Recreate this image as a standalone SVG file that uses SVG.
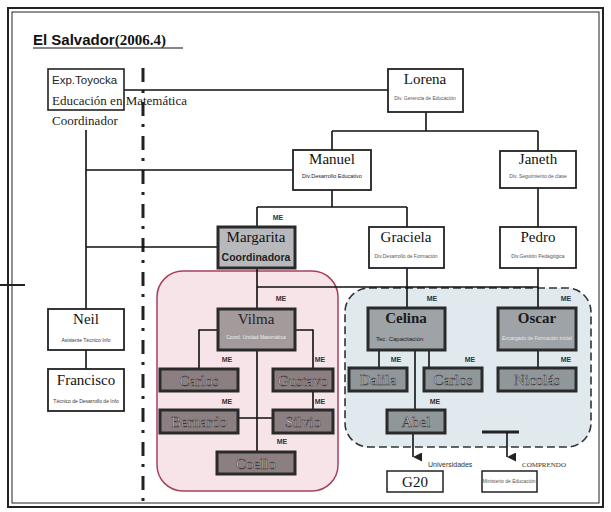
<svg xmlns="http://www.w3.org/2000/svg" width="611" height="512" viewBox="0 0 611 512">
<defs>
<style>
.frame{fill:none;stroke:#222}
.box{fill:#fff;stroke:#222;stroke-width:1.8}
.gm{fill:#b8b9bc;stroke:#2a2a2a;stroke-width:3}
.gv{fill:#a29a9b;stroke:#2a2a2a;stroke-width:3}
.gp{fill:#8b7f81;stroke:#2a2a2a;stroke-width:3}
.gb{fill:#9da3a7;stroke:#2a2a2a;stroke-width:3}
.gbd{fill:#8f979b;stroke:#2a2a2a;stroke-width:3}
.serif{font-family:'Liberation Serif','DejaVu Serif','Times New Roman',serif}
.sans{font-family:'Liberation Sans','DejaVu Sans',Arial,sans-serif}
.nm{font-family:'Liberation Serif','DejaVu Serif','Times New Roman',serif;font-size:15px;fill:#111;text-anchor:middle}
.nmb{font-family:'Liberation Serif','DejaVu Serif','Times New Roman',serif;font-size:15px;fill:#1a1a1a;text-anchor:middle;font-weight:bold}
.nml{font-family:'Liberation Serif','DejaVu Serif','Times New Roman',serif;font-size:15px;fill:#d6cfcf;stroke:#3a3333;stroke-width:0.5;text-anchor:middle}
.sub{font-family:'Liberation Sans','DejaVu Sans',Arial,sans-serif;font-size:5px;fill:#555;text-anchor:middle}
.subd{font-family:'Liberation Sans','DejaVu Sans',Arial,sans-serif;font-size:5px;fill:#e8e8e8;text-anchor:middle}
.me{font-family:'Liberation Sans','DejaVu Sans',Arial,sans-serif;font-size:7px;fill:#333;font-weight:bold;text-anchor:middle}
.cn{fill:none;stroke:#111;stroke-width:1.6}
</style>
<marker id="ah" viewBox="0 0 10 10" refX="5" refY="10" markerWidth="9" markerHeight="9" markerUnits="userSpaceOnUse" orient="auto">
<path d="M0 0 L10 0 L5 10 Z" fill="#222"/>
</marker>
</defs>
<rect width="611" height="512" fill="#fff"/>
<g id="frame">
<rect class="frame" x="8" y="8" width="595" height="499" stroke-width="2"/>
<rect class="frame" x="12" y="12" width="587" height="491" stroke-width="1"/>
<line x1="0" y1="285" x2="25" y2="285" stroke="#222" stroke-width="2"/>
</g>
<g id="title">
<text class="sans" x="33" y="45" font-size="15" fill="#111" font-weight="bold">El Salvador<tspan class="serif">(2006.4)</tspan></text>
<line x1="33" y1="48" x2="183" y2="48" stroke="#111" stroke-width="1.2"/>
</g>
<g id="regions">
<rect x="157" y="271" width="181" height="220" rx="26" fill="#f6e4e9" stroke="#a8405e" stroke-width="1.5"/>
<rect x="345" y="288" width="246" height="159" rx="24" fill="#dfe9ee" stroke="#333" stroke-width="1.6" stroke-dasharray="8 4"/>
</g>
<g id="divider">
<line x1="143" y1="68" x2="143" y2="505" stroke="#222" stroke-width="3" stroke-dasharray="14 8 3 9"/>
</g>
<g id="connectors">
<path class="cn" d="M124 90 H388"/>
<path class="cn" d="M426 112 V131 M332 131 H538 M332 131 V150 M538 131 V151"/>
<path class="cn" d="M86 130 V309 M86 170 H293 M86 247 H218"/>
<path class="cn" d="M332 190 V207 M257 207 H407 M257 207 V227 M407 207 V227"/>
<path class="cn" d="M538 188 V227"/>
<path class="cn" d="M257 268 V309 M257 287 H538 M407 268 V308 M538 268 V308"/>
<path class="cn" d="M86 350 V369"/>
<path class="cn" d="M218 330 H199 V369 M295 330 H313 V369 M313 391 V410 M257 350 V452 M238 418 H273"/>
<path class="cn" d="M379 350 V368 M429 350 V368 M415 350 V410 M538 350 V368"/>
<path class="cn" d="M413 433 V457" marker-end="url(#ah)"/>
<path d="M482 432 H519" stroke="#222" stroke-width="3"/>
<path class="cn" d="M507 432 V457" marker-end="url(#ah)"/>
</g>
<g id="labels">
<text class="me" x="278" y="220">ME</text>
<text class="me" x="281" y="301">ME</text>
<text class="me" x="432" y="301">ME</text>
<text class="me" x="566" y="301">ME</text>
<text class="me" x="227" y="362">ME</text>
<text class="me" x="320" y="362">ME</text>
<text class="me" x="227" y="404">ME</text>
<text class="me" x="320" y="404">ME</text>
<text class="me" x="282" y="444">ME</text>
<text class="me" x="396" y="362">ME</text>
<text class="me" x="470" y="362">ME</text>
<text class="me" x="566" y="362">ME</text>
<text class="me" x="435" y="404">ME</text>
<text class="sans" x="428" y="467" font-size="7" fill="#333">Universidades</text>
<text class="serif" x="522" y="467" font-size="7" fill="#333">COMPRENDO</text>
</g>
<g id="n-toyocka">
<rect x="48" y="69" width="76" height="41" fill="none" stroke="#222" stroke-width="1.6"/>
<text class="sans" x="52" y="84" font-size="11.5" fill="#222">Exp.Toyocka</text>
<text class="serif" x="52" y="105" font-size="13" fill="#222">Educación en Matemática</text>
<text class="serif" x="52" y="125" font-size="13" fill="#222">Coordinador</text>
</g>
<g id="n-lorena">
<rect class="box" x="388" y="69" width="75" height="43"/>
<text class="nm" x="425" y="84">Lorena</text>
<text class="sub" x="425" y="100">Div. Gerencia de Educación</text>
</g>
<g id="n-manuel">
<rect class="box" x="293" y="150" width="78" height="40"/>
<text class="nm" x="332" y="164">Manuel</text>
<text class="sub" x="332" y="178" style="fill:#222;font-size:5.5px">Div.Desarrollo Educativo</text>
</g>
<g id="n-janeth">
<rect class="box" x="500" y="151" width="76" height="37"/>
<text class="nm" x="538" y="164">Janeth</text>
<text class="sub" x="538" y="178">Div. Seguimiento de clase</text>
</g>
<g id="n-graciela">
<rect class="box" x="369" y="227" width="75" height="41"/>
<text class="nm" x="406" y="242">Graciela</text>
<text class="sub" x="406" y="258">Div.Desarrollo de Formación</text>
</g>
<g id="n-pedro">
<rect class="box" x="500" y="227" width="76" height="41"/>
<text class="nm" x="538" y="242">Pedro</text>
<text class="sub" x="538" y="258">Div.Gestión Pedagógica</text>
</g>
<g id="n-margarita">
<rect class="gm" x="218" y="227" width="77" height="41"/>
<text class="nm" x="256" y="242">Margarita</text>
<text class="sans" x="256" y="261" font-size="10.5" font-weight="bold" fill="#222" text-anchor="middle">Coordinadora</text>
</g>
<g id="n-neil">
<rect class="box" x="48" y="309" width="76" height="41"/>
<text class="nm" x="86" y="324">Neil</text>
<text class="sub" x="86" y="342" style="fill:#333">Asistente Técnico Info</text>
</g>
<g id="n-francisco">
<rect class="box" x="48" y="369" width="76" height="42"/>
<text class="nm" x="86" y="385">Francisco</text>
<text class="sub" x="86" y="403" style="fill:#333">Técnico de Desarrollo de Info</text>
</g>
<g id="n-vilma">
<rect class="gv" x="218" y="309" width="77" height="41"/>
<text class="nm" x="256" y="324" style="fill:#2a2222">Vilma</text>
<text class="sub" x="256" y="339" style="fill:#eee">Coord. Unidad Matemática</text>
</g>
<g id="n-carlos1">
<rect class="gp" x="160" y="369" width="78" height="22"/>
<text class="nml" x="199" y="386">Carlos</text>
</g>
<g id="n-gustavo">
<rect class="gp" x="273" y="369" width="60" height="22"/>
<text class="nml" x="303" y="386">Gustavo</text>
</g>
<g id="n-bernardo">
<rect class="gp" x="160" y="410" width="78" height="23"/>
<text class="nml" x="199" y="427">Bernardo</text>
</g>
<g id="n-silvio">
<rect class="gp" x="273" y="410" width="60" height="23"/>
<text class="nml" x="303" y="427">Silvio</text>
</g>
<g id="n-coello">
<rect class="gp" x="217" y="452" width="78" height="22"/>
<text class="nml" x="256" y="469">Coello</text>
</g>
<g id="n-celina">
<rect class="gb" x="368" y="308" width="77" height="42"/>
<text class="nmb" x="406" y="323">Celina</text>
<text class="sans" x="376" y="341" font-size="6" fill="#222">Tec. Capacitación</text>
</g>
<g id="n-oscar">
<rect class="gb" x="498" y="308" width="78" height="42"/>
<text class="nmb" x="537" y="323">Oscar</text>
<text class="subd" x="537" y="340">Encargado de Formación inicial</text>
</g>
<g id="n-dalila">
<rect class="gbd" x="349" y="368" width="58" height="23"/>
<text class="nml" x="378" y="385" style="fill:#d3d8da">Dalila</text>
</g>
<g id="n-carlos2">
<rect class="gbd" x="424" y="368" width="58" height="23"/>
<text class="nml" x="453" y="385" style="fill:#d3d8da">Carlos</text>
</g>
<g id="n-nicolas">
<rect class="gbd" x="498" y="368" width="78" height="23"/>
<text class="nml" x="537" y="385" style="fill:#d3d8da">Nicolás</text>
</g>
<g id="n-abel">
<rect class="gbd" x="387" y="410" width="58" height="23"/>
<text class="nml" x="416" y="427" style="fill:#d3d8da">Abel</text>
</g>
<g id="n-g20">
<rect class="box" x="387" y="471" width="56" height="21" style="stroke-width:1.5"/>
<text class="nm" x="415" y="487">G20</text>
</g>
<g id="n-ministerio">
<rect class="box" x="482" y="471" width="55" height="21" style="stroke-width:1.5"/>
<text class="sub" x="509" y="483">Ministerio de Educación</text>
</g>
</svg>
